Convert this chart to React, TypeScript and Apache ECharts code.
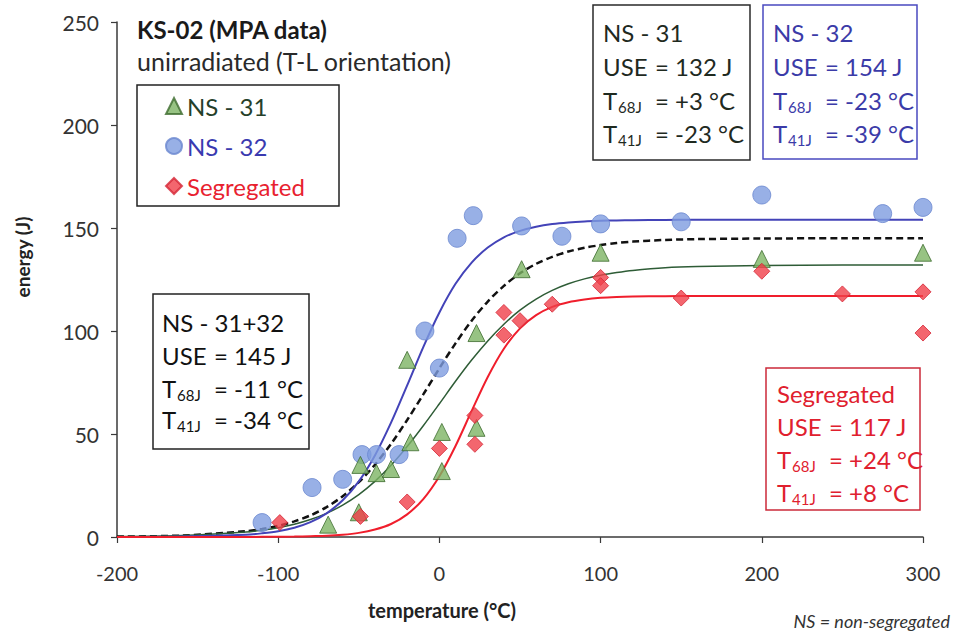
import React, { useEffect, useRef } from "react";
import * as echarts from "echarts";

// Measured data (temperature °C, energy J)
const ns31Temp = [-69, -50, -49, -39, -30, -20, -18, 1.5, 1.5, 23, 23, 51, 100, 200, 300];
const ns31Energy = [6, 12, 35, 31, 33, 86, 46, 51, 32, 99, 53, 130, 138, 135, 138];

const ns32Temp = [-110, -79, -60, -48, -39, -25, -9, 0, 11, 21, 51, 76, 100, 150, 200, 275, 300];
const ns32Energy = [7, 24, 28, 40, 40, 40, 100, 82, 145, 156, 151, 146, 152, 153, 166, 157, 160];

const segTemp = [-99, -49, -20, 0, 22, 22, 40, 40, 50, 70, 100, 100, 150, 200, 250, 300, 300];
const segEnergy = [7, 10, 17, 43, 59, 45, 109, 98, 105, 113, 126, 122, 116, 129, 118, 119, 99];

// Fitted curves, read at sample temperatures
const curveTemp = [-200, -160, -120, -110, -100, -90, -80, -70, -60, -50, -40, -30, -20, -10, 0, 10, 20, 30, 40, 50, 60, 70, 80, 90, 100, 110, 120, 140, 160, 200, 250, 300];
const fitNS31 = [0.2, 0.7, 2.4, 3.3, 4.5, 6.2, 8.5, 11.5, 15.5, 20.6, 27.0, 34.8, 43.9, 54.0, 64.7, 75.6, 85.9, 95.2, 103.3, 110.1, 115.5, 119.7, 122.9, 125.3, 127.1, 128.4, 129.4, 130.7, 131.3, 131.8, 132.0, 132.0];
const fitNS32 = [0.0, 0.2, 1.1, 1.8, 2.8, 4.5, 7.2, 11.5, 17.8, 27.0, 39.6, 55.5, 73.6, 92.2, 109.0, 122.9, 133.2, 140.5, 145.5, 148.6, 150.6, 151.9, 152.7, 153.2, 153.5, 153.7, 153.8, 153.9, 154.0, 154.0, 154.0, 154.0];
const fitNSAll = [0.2, 0.7, 2.8, 3.9, 5.4, 7.6, 10.5, 14.5, 19.8, 26.6, 35.1, 45.2, 56.8, 69.2, 81.9, 94.0, 105.0, 114.3, 121.9, 128.0, 132.6, 136.0, 138.6, 140.4, 141.7, 142.7, 143.4, 144.2, 144.6, 144.9, 145.0, 145.0];
const fitSeg = [0.0, 0.0, 0.0, 0.1, 0.1, 0.2, 0.4, 0.6, 1.1, 2.0, 3.6, 6.3, 11.0, 18.4, 29.5, 44.2, 61.2, 77.7, 91.4, 101.3, 107.7, 111.7, 114.0, 115.3, 116.1, 116.5, 116.7, 116.9, 117.0, 117.0, 117.0, 117.0];

// Text content
const legendNames = ["NS - 31", "NS - 32", "Segregated"];
const boxNS31 = ["NS - 31", "= 132 J", "= +3 °C", "= -23 °C"];
const boxNS32 = ["NS - 32", "= 154 J", "= -23 °C", "= -39 °C"];
const boxAll = ["NS - 31+32", "= 145 J", "= -11 °C", "= -34 °C"];
const boxSeg = ["Segregated", "= 117 J", "= +24 °C", "= +8 °C"];

const FONT = 'Lato, "Noto Sans", sans-serif';

const zip = (xs: number[], ys: number[]) => xs.map((x, i) => [x, ys[i]]);

function txt(x: number, y: number, text: string, size: number, color: string, opts: any = {}) {
  const align = opts.align || "left";
  return {
    type: "text",
    x,
    y,
    rotation: opts.rotation || 0,
    silent: true,
    style: {
      text,
      fill: color,
      fontSize: size,
      fontFamily: FONT,
      fontWeight: opts.bold ? "bold" : "normal",
      fontStyle: opts.italic ? "italic" : "normal",
      textAlign: align,
      align,
      textVerticalAlign: "middle",
      verticalAlign: "middle",
    },
  };
}

function rect(x: number, y: number, w: number, h: number, stroke: string) {
  return {
    type: "rect",
    silent: true,
    shape: { x, y, width: w, height: h },
    style: { fill: "#ffffff", stroke, lineWidth: 1.5 },
  };
}

function statBox(bx: number, by: number, bw: number, bh: number, stroke: string, color: string, x0: number, ys: number[], lines: string[]) {
  const fs = 24;
  const eqX = x0 + 52;
  return [
    rect(bx, by, bw, bh, stroke),
    txt(x0, ys[0], lines[0], fs, color),
    txt(x0, ys[1], "USE", fs, color),
    txt(eqX, ys[1], lines[1], fs, color),
    txt(x0, ys[2], "T", fs, color),
    txt(x0 + 15, ys[2] + 7, "68J", 15, color),
    txt(eqX, ys[2], lines[2], fs, color),
    txt(x0, ys[3], "T", fs, color),
    txt(x0 + 15, ys[3] + 7, "41J", 15, color),
    txt(eqX, ys[3], lines[3], fs, color),
  ];
}

export default function App() {
  const ref = useRef<HTMLDivElement>(null);
  useEffect(() => {
    if (!ref.current) return;
    const chart = echarts.init(ref.current, undefined, { renderer: "svg" });
    const axisColor = "#3a3a3a";
    const lineBase = { type: "line", smooth: 0.3, showSymbol: false, z: 2, silent: true };
    const option: any = {
      animation: false,
      backgroundColor: "#ffffff",
      grid: { left: 117, right: 32, top: 22, bottom: 97, containLabel: false },
      xAxis: {
        type: "value",
        min: -200,
        max: 300,
        interval: 100,
        axisLine: { show: true, onZero: false, lineStyle: { color: axisColor, width: 1.5 } },
        axisTick: { show: true, length: 6, lineStyle: { color: axisColor, width: 1.2 } },
        splitLine: { show: false },
        axisLabel: { fontSize: 20, color: "#333", fontFamily: FONT, margin: 26 },
      },
      yAxis: {
        type: "value",
        min: 0,
        max: 250,
        interval: 50,
        axisLine: { show: true, onZero: false, lineStyle: { color: axisColor, width: 1.5 } },
        axisTick: { show: true, length: 6, lineStyle: { color: axisColor, width: 1.2 } },
        splitLine: { show: false },
        axisLabel: { fontSize: 21, color: "#333", fontFamily: FONT, margin: 18 },
      },
      legend: {
        orient: "vertical",
        left: 160,
        top: 89,
        itemWidth: 16,
        itemHeight: 16,
        itemGap: 16,
        selectedMode: false,
        textStyle: { fontSize: 24, fontFamily: FONT, lineHeight: 24 },
        data: [
          { name: legendNames[0], textStyle: { color: "#25402a" } },
          { name: legendNames[1], textStyle: { color: "#3a3ab0" } },
          { name: legendNames[2], textStyle: { color: "#e8212f" } },
        ],
        z: 10,
      },
      graphic: [
        txt(137, 29, "KS-02 (MPA data)", 24, "#1a1a1a", { bold: true }),
        txt(137, 61, "unirradiated (T-L orientation)", 25, "#2a2a2a"),
        { ...rect(137, 85, 202, 121, "#222222"), z: -1 },
        ...statBox(593, 5, 157, 155, "#2a2a2a", "#1f2a1f", 603, [32, 66, 100, 133], boxNS31),
        ...statBox(763, 5, 154, 154, "#4a4ac0", "#3b3ba8", 773, [32, 66, 100, 133], boxNS32),
        ...statBox(153, 294, 156, 155, "#222222", "#111111", 162, [322, 355, 388, 419], boxAll),
        ...statBox(766, 368, 154, 142, "#cc2a3a", "#e0202e", 777, [393, 426, 459, 492], boxSeg),
        txt(22, 257, "energy (J)", 19, "#222", { bold: true, align: "center", rotation: Math.PI / 2 }),
        txt(442, 610, "temperature (°C)", 20, "#222", { bold: true, align: "center" }),
        txt(950, 621, "NS = non-segregated", 18, "#333", { italic: true, align: "right" }),
      ],
      series: [
        { ...lineBase, name: "fit NS-31+32", data: zip(curveTemp, fitNSAll), lineStyle: { color: "#111", width: 2.5, type: [7, 4] } },
        { ...lineBase, name: "fit NS-31", data: zip(curveTemp, fitNS31), lineStyle: { color: "#2e5c36", width: 1.5 } },
        { ...lineBase, name: "fit NS-32", data: zip(curveTemp, fitNS32), lineStyle: { color: "#4343b8", width: 2 } },
        { ...lineBase, name: "fit Segregated", data: zip(curveTemp, fitSeg), lineStyle: { color: "#f01e2c", width: 2 } },
        {
          name: legendNames[1],
          type: "scatter",
          data: zip(ns32Temp, ns32Energy),
          symbol: "circle",
          symbolSize: 18,
          clip: false,
          itemStyle: { color: "#7e9ce0", borderColor: "#6a87cf", borderWidth: 1 },
          z: 3,
        },
        {
          name: legendNames[0],
          type: "scatter",
          data: zip(ns31Temp, ns31Energy),
          symbol: "triangle",
          symbolSize: 17,
          clip: false,
          itemStyle: { color: "#7db464", borderColor: "#3d6b2e", borderWidth: 1 },
          z: 4,
        },
        {
          name: legendNames[2],
          type: "scatter",
          data: zip(segTemp, segEnergy),
          symbol: "diamond",
          symbolSize: 16,
          clip: false,
          itemStyle: { color: "#f0404a", borderColor: "#d42636", borderWidth: 1 },
          z: 5,
        },
      ],
    };
    chart.setOption(option);
    return () => chart.dispose();
  }, []);
  return (
    <div
      ref={ref}
      style={{ position: "fixed", left: 0, top: 0, width: 955, height: 634, background: "#fff" }}
    />
  );
}
